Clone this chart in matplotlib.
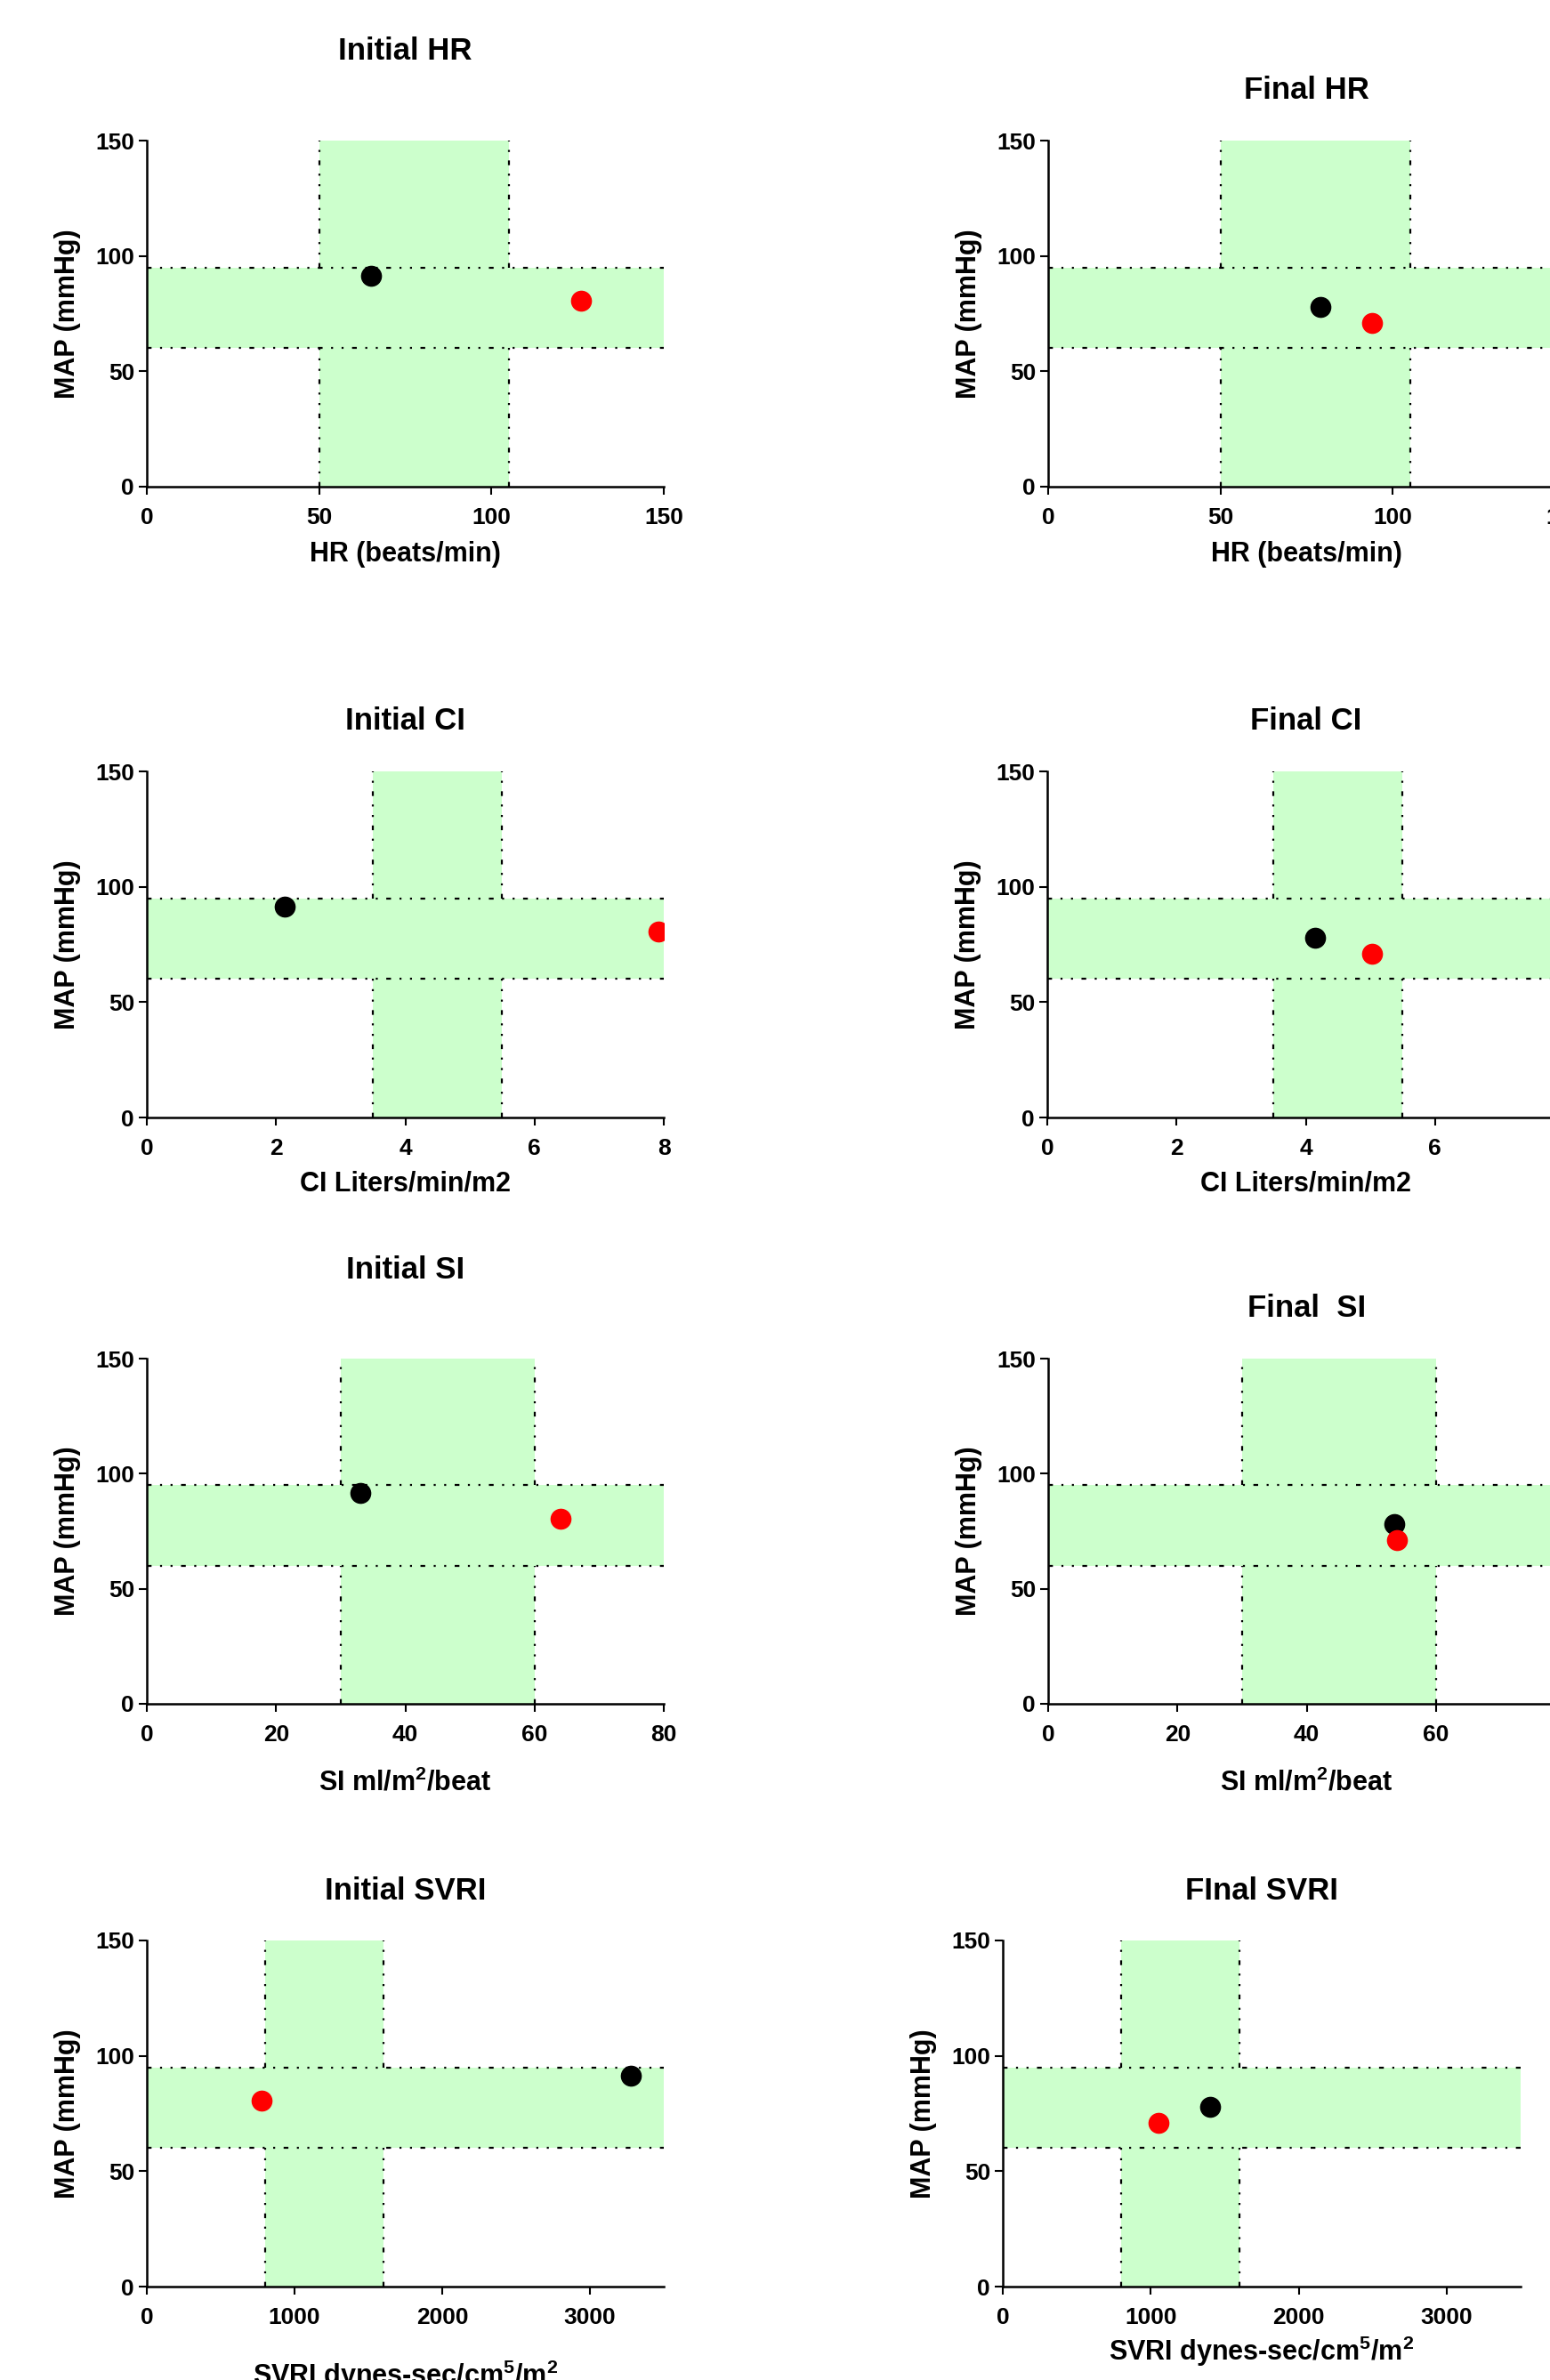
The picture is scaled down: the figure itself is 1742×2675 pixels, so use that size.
import matplotlib
matplotlib.use('Agg')
import matplotlib.pyplot as plt

plt.rcParams['font.family'] = ['Liberation Sans', 'DejaVu Sans']
plt.rcParams['font.weight'] = 'bold'
plt.rcParams['mathtext.default'] = 'regular'

# ---------------- data ----------------
point_colors = ['#000000', '#FF0000']          # patient 1 (black), patient 2 (red)
map_initial = [91.5, 80.5]
map_final = [78, 71]
hr_initial = [65, 126]
hr_final = [79, 94]
ci_initial = [2.13, 7.92]
ci_final = [4.15, 5.02]
si_initial = [33, 64]
si_final = [53.5, 54]
svri_initial = [3280, 775]
svri_final = [1400, 1050]

map_normal = [60, 95]
hr_normal = [50, 105]
ci_normal = [3.5, 5.5]
si_normal = [30, 60]
svri_normal = [800, 1600]

y_ticks = [0, 50, 100, 150]
hr_ticks = [0, 50, 100, 150]
ci_ticks = [0, 2, 4, 6, 8]
si_ticks = [0, 20, 40, 60, 80]
svri_ticks = [0, 1000, 2000, 3000]

titles = ['Initial HR', 'Final HR', 'Initial CI', 'Final CI',
          'Initial SI', 'Final  SI', 'Initial SVRI', 'FInal SVRI']
xlabels = ['HR (beats/min)', 'HR (beats/min)',
           'CI Liters/min/m2', 'CI Liters/min/m2',
           r'SI ml/m$^{2}$/beat', r'SI ml/m$^{2}$/beat',
           r'SVRI dynes-sec/cm$^{5}$/m$^{2}$', r'SVRI dynes-sec/cm$^{5}$/m$^{2}$']
ylabel = 'MAP (mmHg)'

# ---------------- layout ----------------
W, H = 1742, 2675
DPI = 100
fig = plt.figure(figsize=(W / DPI, H / DPI), dpi=DPI)
fig.patch.set_facecolor('white')

GREEN = '#CCFFCC'
DASH = (0, (2.4, 4.3, 1.0, 4.3, 1.0, 4.3))
DLW = 1.6

# (left px, top px, width px, height px, title baseline frac, xlabel baseline frac)
layout = [
    (165, 158, 581, 389, 1.233, -0.216),
    (1178, 158, 581, 389, 1.122, -0.216),
    (165, 867, 581, 389, 1.121, -0.212),
    (1177, 867, 581, 389, 1.121, -0.212),
    (165, 1527, 581, 388, 1.233, -0.252),
    (1178, 1527, 581, 388, 1.122, -0.252),
    (165, 2181, 581, 389, 1.118, -0.282),
    (1127, 2181, 582, 389, 1.118, -0.214),
]

panels = [
    (hr_initial, map_initial, hr_normal, hr_ticks, 150),
    (hr_final, map_final, hr_normal, hr_ticks, 150),
    (ci_initial, map_initial, ci_normal, ci_ticks, 8),
    (ci_final, map_final, ci_normal, ci_ticks, 8),
    (si_initial, map_initial, si_normal, si_ticks, 80),
    (si_final, map_final, si_normal, si_ticks, 80),
    (svri_initial, map_initial, svri_normal, svri_ticks, 3500),
    (svri_final, map_final, svri_normal, svri_ticks, 3500),
]

for i, ((xv, yv, xn, xt, xmax), (lp, tp, wp, hp, ty, xly)) in enumerate(zip(panels, layout)):
    ax = fig.add_axes([lp / W, 1 - (tp + hp) / H, wp / W, hp / H])
    ax.set_xlim(0, xmax)
    ax.set_ylim(y_ticks[0], y_ticks[-1])
    ax.patch.set_alpha(0)

    # normal-range cross
    ax.axvspan(xn[0], xn[1], color=GREEN, lw=0, zorder=0)
    ax.axhspan(map_normal[0], map_normal[1], color=GREEN, lw=0, zorder=0)
    for yy in map_normal:
        ax.axhline(yy, color='black', lw=DLW, ls=DASH, zorder=1)
    for xx in xn:
        ax.vlines([xx, xx], [y_ticks[0], map_normal[1]], [map_normal[0], y_ticks[-1]],
                  colors='black', lw=DLW, linestyles=[DASH], zorder=1)

    # points
    for x, y, c in zip(xv, yv, point_colors):
        ax.plot([x], [y], 'o', ms=16, color=c, mec=c, zorder=3)

    ax.set_xticks(xt)
    ax.set_yticks(y_ticks)
    ax.tick_params(axis='both', direction='out', length=6.5, width=1.5,
                   labelsize=19, colors='black')
    ax.tick_params(axis='x', pad=10)
    ax.tick_params(axis='y', pad=3.5)
    for lab in ax.get_xticklabels() + ax.get_yticklabels():
        lab.set_fontweight('bold')
    for s in ['top', 'right']:
        ax.spines[s].set_visible(False)
    for s in ['left', 'bottom']:
        ax.spines[s].set_linewidth(1.8)

    ax.text(0.5, ty, titles[i], transform=ax.transAxes, ha='center', va='baseline',
            fontsize=25, fontweight='bold')
    ax.text(0.5, xly, xlabels[i], transform=ax.transAxes, ha='center', va='baseline',
            fontsize=22, fontweight='bold')
    ax.text(-89 / wp, 0.5, ylabel, transform=ax.transAxes, ha='center', va='center',
            rotation=90, fontsize=22, fontweight='bold')

fig.savefig('out.png', dpi=DPI)
